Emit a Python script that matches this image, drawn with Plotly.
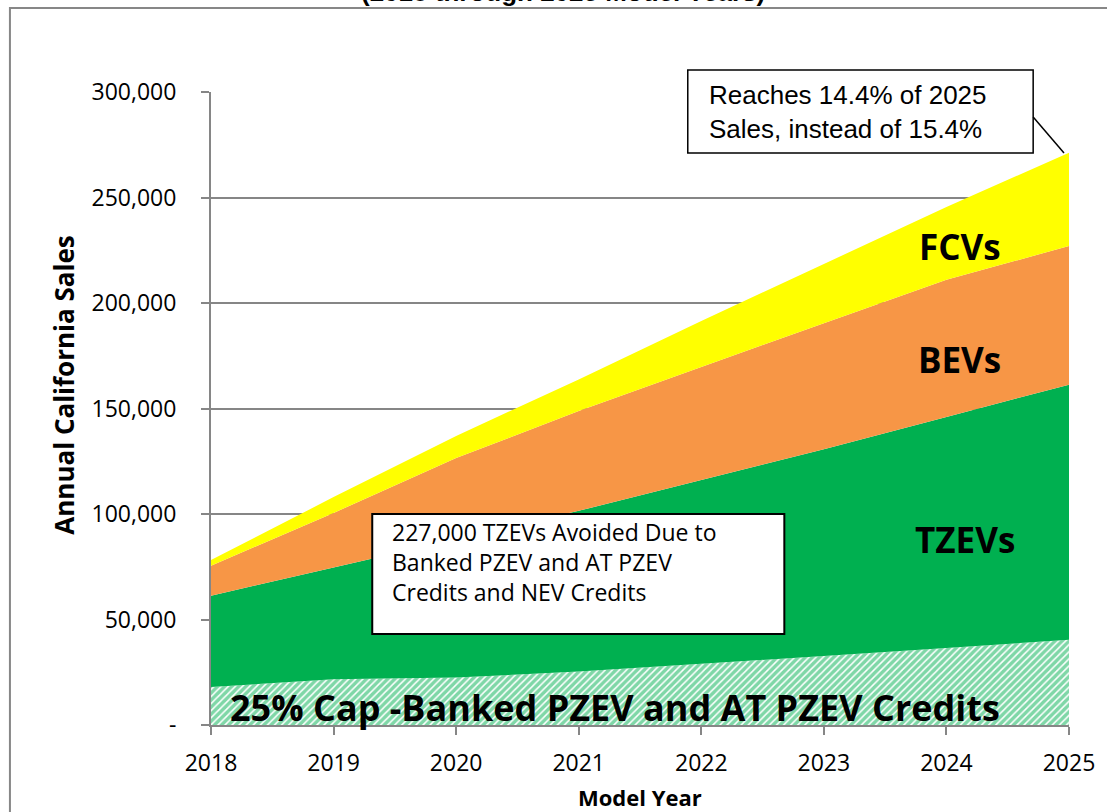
import plotly.graph_objects as go

years = [2018, 2019, 2020, 2021, 2022, 2023, 2024, 2025]
# Individual layer values (units)
banked_cap = [18000, 21700, 22500, 25300, 29000, 32700, 36500, 40400]
tzevs = [43300, 53000, 65500, 76200, 87100, 98000, 109500, 120900]
bevs = [14200, 25800, 38500, 47300, 53600, 59700, 65000, 65700]
fcvs = [2700, 7500, 10500, 15000, 21800, 28100, 34500, 44200]

y_tickvals = [0, 50000, 100000, 150000, 200000, 250000, 300000]
y_ticktext = ["-", "50,000", "100,000", "150,000", "200,000", "250,000", "300,000"]

GREEN = "#00B050"
ORANGE = "#F79646"
YELLOW = "#FFFF00"
GRID = "#868686"
CAL = "Open Sans"
ARIAL = "Liberation Sans, Arial"

fig = go.Figure()
fig.add_trace(go.Scatter(x=years, y=banked_cap, stackgroup="s", mode="none",
                         fillcolor="white",
                         fillpattern=dict(shape="/", fgcolor=GREEN, bgcolor="white",
                                          size=5, solidity=0.7),
                         hoverinfo="skip", showlegend=False))
fig.add_trace(go.Scatter(x=years, y=tzevs, stackgroup="s", mode="none",
                         fillcolor=GREEN, hoverinfo="skip", showlegend=False))
fig.add_trace(go.Scatter(x=years, y=bevs, stackgroup="s", mode="none",
                         fillcolor=ORANGE, hoverinfo="skip", showlegend=False))
fig.add_trace(go.Scatter(x=years, y=fcvs, stackgroup="s", mode="none",
                         fillcolor=YELLOW, hoverinfo="skip", showlegend=False))

W, H = 1107, 812
OFF = 0  # page body margin removed by post_script
L, T = 211, 92
pw, ph = 862, 633
R, B = W - L - pw, H - T - ph

def px(sx):
    return (sx - OFF - L) / pw

def py(sy):
    return (H - B - (sy - OFF)) / ph

shapes = [
    # outer chart frame
    dict(type="rect", xref="paper", yref="paper", x0=px(9), x1=px(1140), y0=py(840), y1=py(8),
         line=dict(color="#878787", width=2), fillcolor="rgba(0,0,0,0)", layer="below"),
    # TZEV note box
    dict(type="rect", xref="paper", yref="paper", x0=px(373), x1=px(787), y0=py(634), y1=py(514),
         line=dict(color="black", width=2), fillcolor="white", layer="above"),
    # Reaches box
    dict(type="rect", xref="paper", yref="paper", x0=px(690), x1=px(1037), y0=py(153), y1=py(70),
         line=dict(color="black", width=1.5), fillcolor="white", layer="above"),
    dict(type="line", xref="paper", yref="paper", x0=px(1037), y0=py(117), x1=px(1068), y1=py(153),
         line=dict(color="black", width=1.5)),
]

def ptext(text, sx, sy, font, xanchor="left", yanchor="middle", angle=0):
    return dict(text=text, xref="paper", yref="paper", x=px(sx), y=py(sy),
                xanchor=xanchor, yanchor=yanchor, align="left", showarrow=False,
                textangle=angle, font=font)

box_font = dict(family=CAL, size=23, color="black")
reach_font = dict(family=ARIAL, size=26, color="black")
lab_font = dict(family=CAL, size=35, color="black")

annotations = [
    ptext("<b>(2018 through 2025 Model Years)</b>", 565, 9,
          dict(family=ARIAL, size=26, color="black"), xanchor="center", yanchor="bottom"),
    ptext("227,000 TZEVs Avoided Due to<br>Banked PZEV and AT PZEV<br>Credits and NEV Credits",
          391, 562, box_font),
    ptext("Reaches 14.4% of 2025<br>Sales, instead of 15.4%", 709, 112, reach_font),
    ptext("<b>Annual California Sales</b>", 63, 385,
          dict(family=CAL, size=26, color="black"), xanchor="center", angle=-90),
    ptext("<b>Model Year</b>", 642, 797,
          dict(family=CAL, size=22, color="black"), xanchor="center"),
    dict(text="<b>FCVs</b>", x=2024.11, y=227000, showarrow=False, font=lab_font),
    dict(text="<b>BEVs</b>", x=2024.11, y=173000, showarrow=False, font=lab_font),
    dict(text="<b>TZEVs</b>", x=2024.15, y=87700, showarrow=False, font=lab_font),
    dict(text="<b>25% Cap -Banked PZEV and AT PZEV Credits</b>", x=2021.3, y=8500,
         showarrow=False, font=dict(family=CAL, size=36, color="black")),
]

fig.update_layout(
    width=W, height=H,
    margin=dict(l=L, r=R, t=T, b=B),
    paper_bgcolor="white", plot_bgcolor="white",
    shapes=shapes, annotations=annotations,
    showlegend=False,
    xaxis=dict(range=[2018, 2025], tickvals=years, ticktext=[str(y) for y in years],
               showgrid=False, zeroline=False, showline=True, linecolor=GRID, linewidth=2,
               ticks="outside", ticklen=8, tickwidth=2, tickcolor=GRID,
               ticklabelstandoff=8,
               tickfont=dict(family=CAL, size=23, color="black")),
    yaxis=dict(range=[0, 300000], tickvals=y_tickvals, ticktext=y_ticktext,
               showgrid=True, gridcolor=GRID, gridwidth=1.5, zeroline=False,
               showline=True, linecolor=GRID, linewidth=2,
               ticks="outside", ticklen=8, tickwidth=2, tickcolor=GRID,
               ticklabelstandoff=20,
               tickfont=dict(family=CAL, size=23, color="black")),
)

fig.write_html("out.html", config={"displayModeBar": False},
               post_script="document.body.style.margin='0';document.body.style.overflow='hidden';")
